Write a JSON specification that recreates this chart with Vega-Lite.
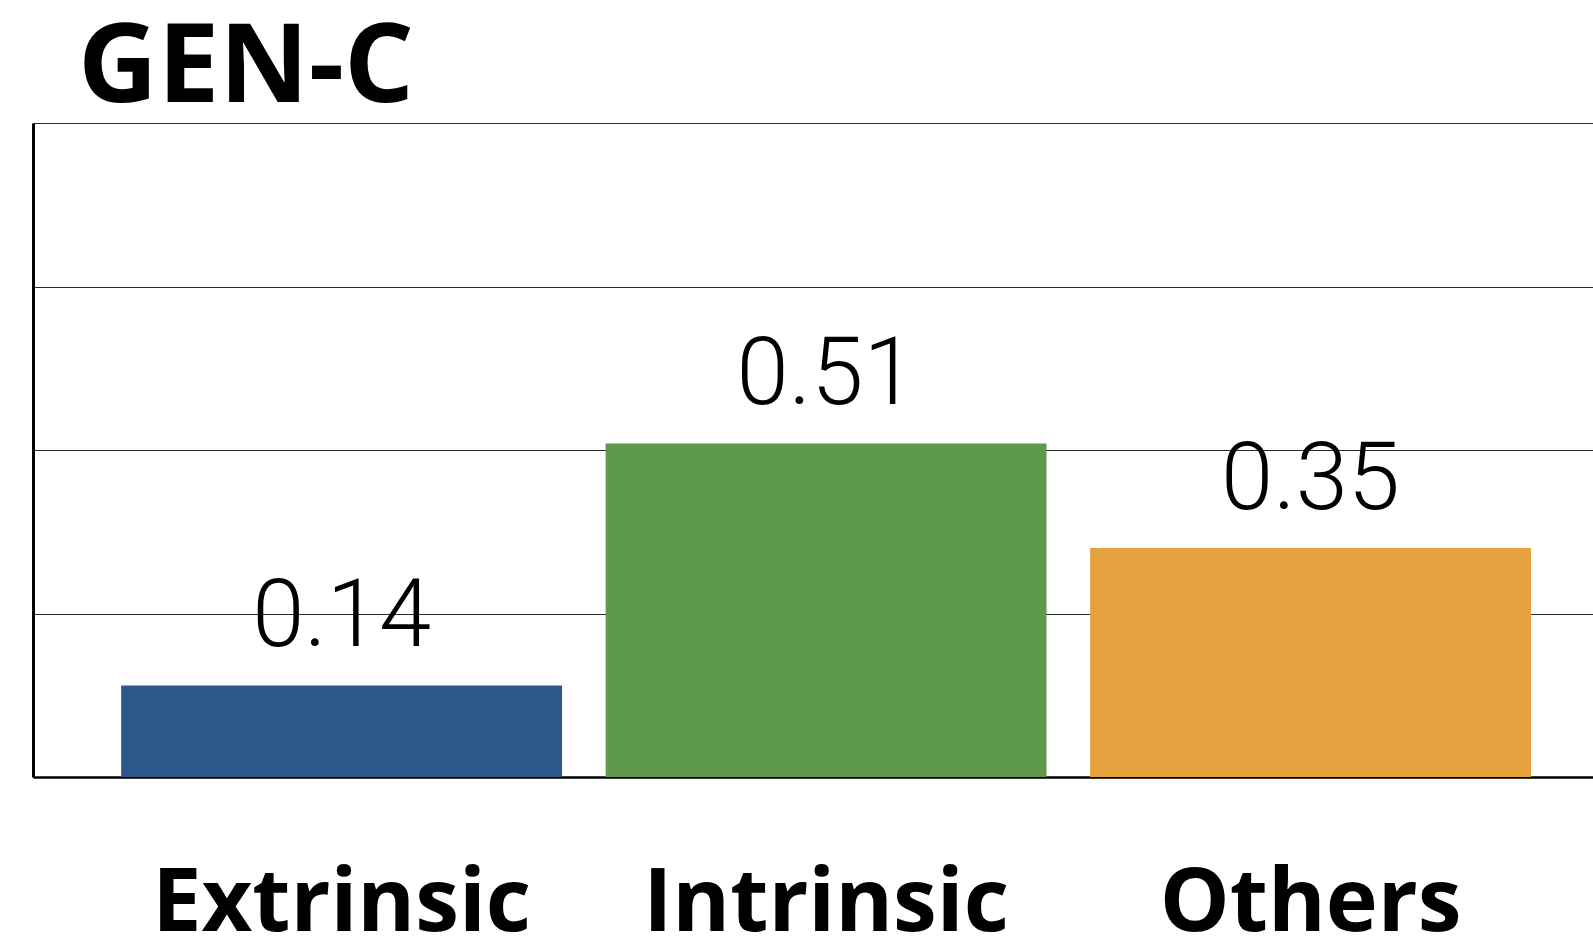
{
  "$schema": "https://vega.github.io/schema/vega-lite/v6.json",
  "width": 1560,
  "height": 654,
  "autosize": {"type": "none"},
  "padding": {"left": 33, "top": 123, "right": 0, "bottom": 160},
  "background": "white",
  "config": {"view": {"stroke": null}},
  "title": {
    "text": "GEN-C",
    "font": "Open Sans",
    "fontWeight": 700,
    "fontSize": 110,
    "color": "black",
    "anchor": "start",
    "frame": "group",
    "baseline": "alphabetic",
    "dx": 45,
    "offset": -89
  },
  "data": {
    "values": [
      {"category": "Extrinsic", "value": 0.14},
      {"category": "Intrinsic", "value": 0.51},
      {"category": "Others", "value": 0.35}
    ]
  },
  "encoding": {
    "x": {
      "field": "category",
      "type": "nominal",
      "sort": null,
      "scale": {"paddingInner": 0.09, "paddingOuter": 0.155, "align": 0.587},
      "axis": {
        "title": null,
        "domain": true,
        "domainColor": "black",
        "domainWidth": 2.5,
        "ticks": false,
        "grid": false,
        "labelAngle": 0,
        "labelFont": "Open Sans",
        "labelFontWeight": 700,
        "labelFontSize": 88,
        "labelColor": "black",
        "labelBaseline": "alphabetic",
        "labelPadding": 153,
        "labelLimit": 0,
        "labelOverlap": false
      }
    },
    "y": {
      "field": "value",
      "type": "quantitative",
      "scale": {"domain": [0, 1], "nice": false},
      "axis": {
        "title": null,
        "values": [0, 0.25, 0.5, 0.75, 1],
        "labels": false,
        "ticks": false,
        "domain": true,
        "domainColor": "black",
        "domainWidth": 3,
        "grid": true,
        "gridColor": "#2a2a2a",
        "gridWidth": 1.2
      }
    }
  },
  "layer": [
    {
      "mark": {"type": "bar"},
      "encoding": {
        "color": {
          "field": "category",
          "type": "nominal",
          "sort": null,
          "scale": {"range": ["#2F588A", "#5E984A", "#E5A23E"]},
          "legend": null
        }
      }
    },
    {
      "mark": {
        "type": "text",
        "font": "Roboto",
        "fontWeight": 300,
        "fontSize": 94,
        "color": "black",
        "baseline": "alphabetic",
        "dy": -39
      },
      "encoding": {
        "text": {"field": "value", "type": "quantitative", "format": ".2f"}
      }
    }
  ]
}
